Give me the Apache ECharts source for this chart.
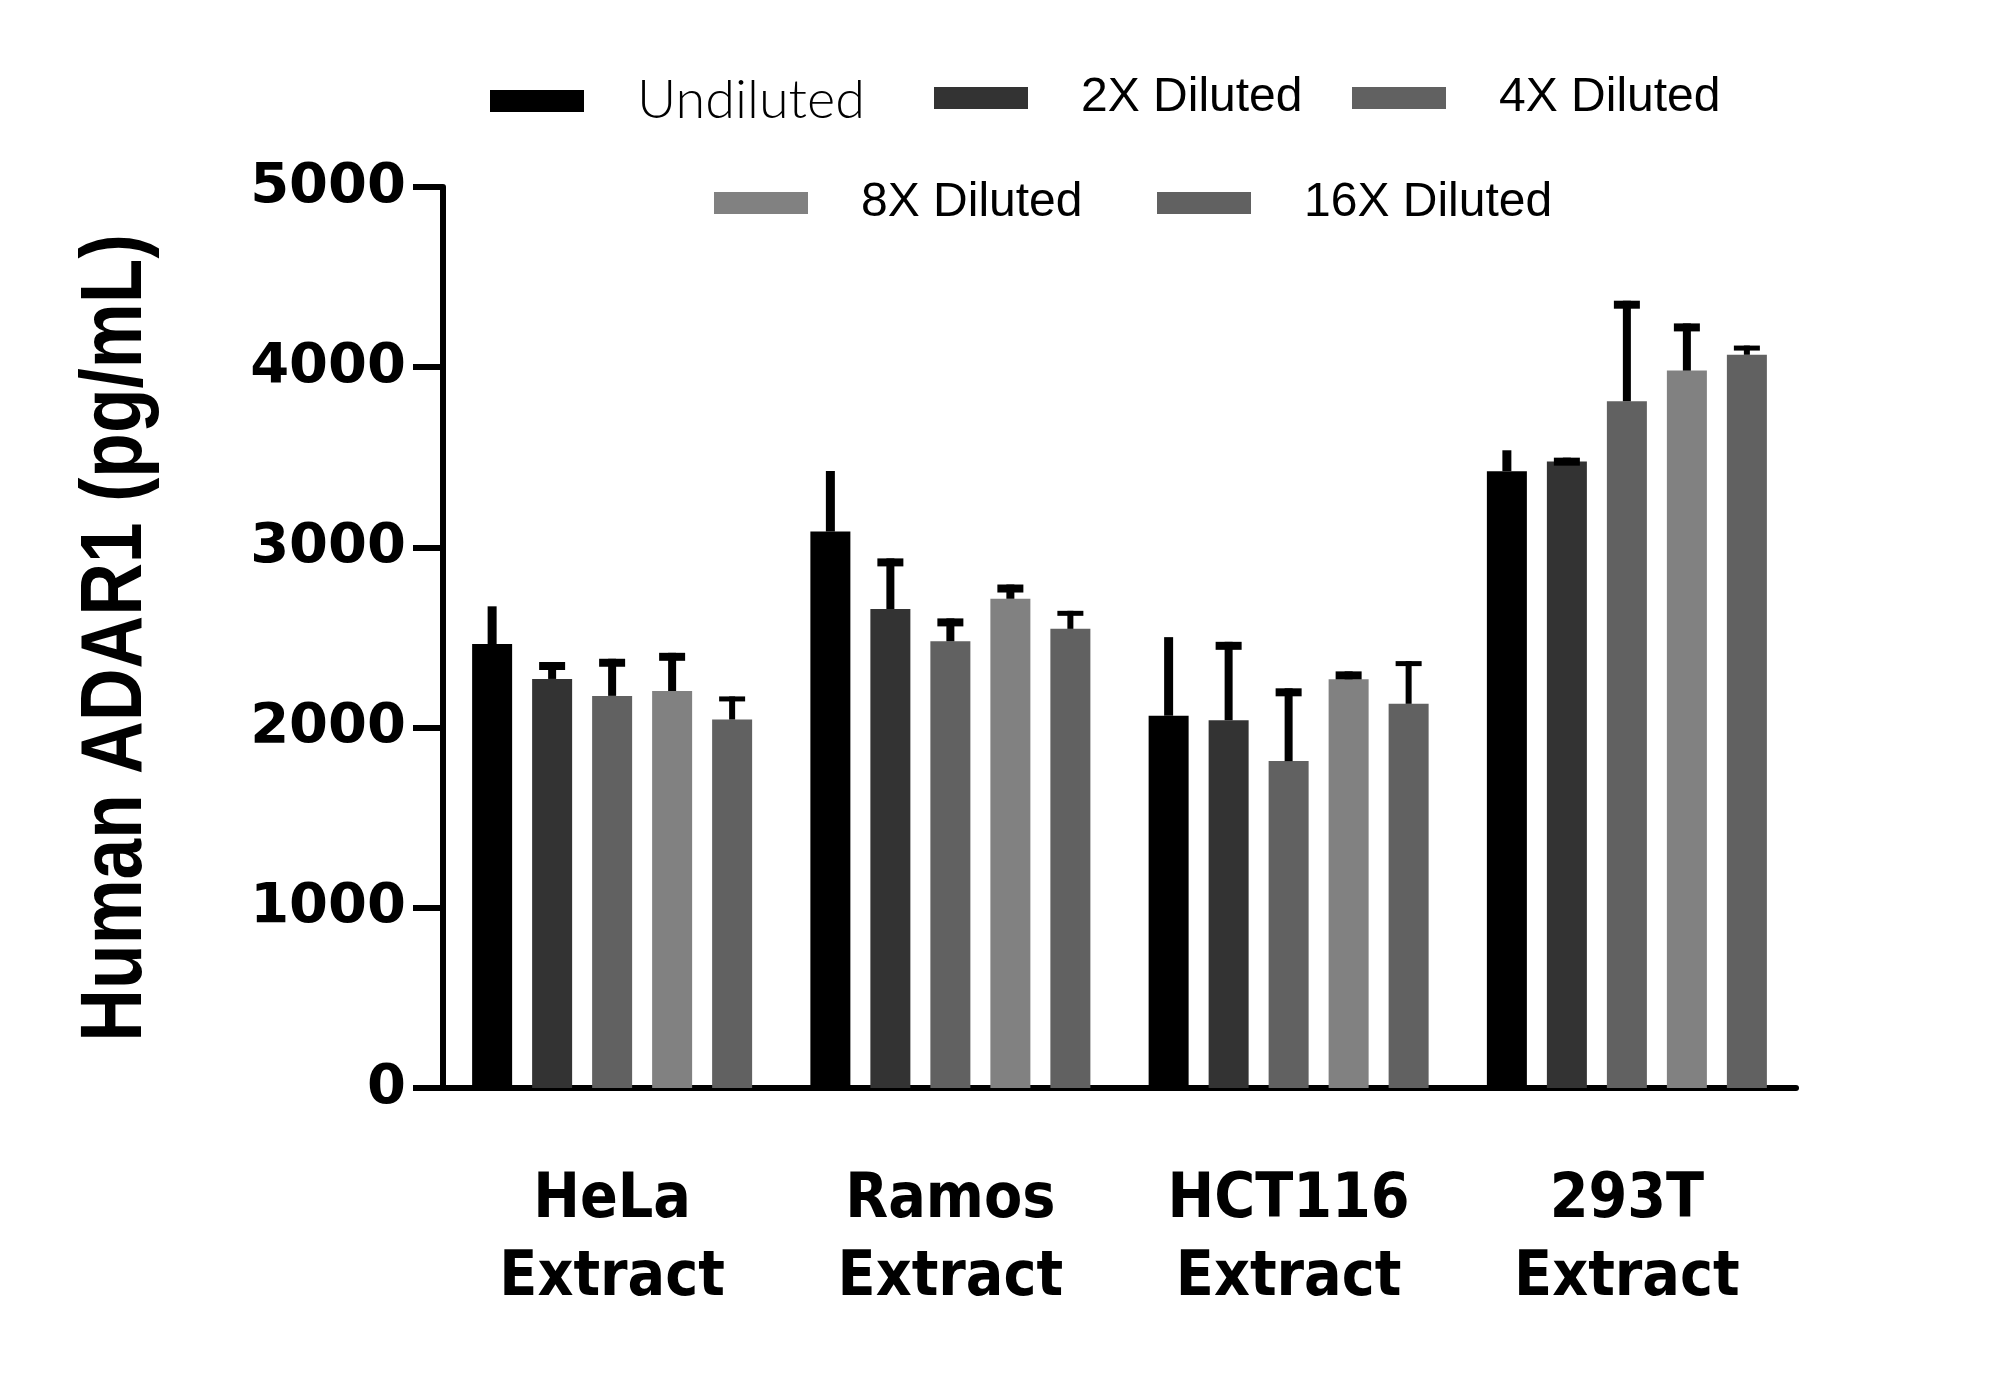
<!DOCTYPE html>
<html>
<head>
<meta charset="utf-8">
<script src="https://cdn.jsdelivr.net/npm/echarts@6/dist/echarts.min.js"></script>
<style>
  html, body { margin: 0; padding: 0; background: #fff; }
  #main { width: 2000px; height: 1382px; }
</style>
</head>
<body>
<div id="main"></div>
<script>
var categories = ['HeLa\nExtract', 'Ramos\nExtract', 'HCT116\nExtract', '293T\nExtract'];
var seriesNames = ['Undiluted', '2X Diluted', '4X Diluted', '8X Diluted', '16X Diluted'];
var colors = ['#000000', '#333333', '#616161', '#818181', '#616161'];
var yTitle = 'Human ADAR1 (pg/mL)';

// mean values per cell line
var undiluted = [2464, 3088, 2066, 3423];
var diluted2x = [2270, 2658, 2041, 3476];
var diluted4x = [2176, 2479, 1814, 3811];
var diluted8x = [2203, 2715, 2268, 3981];
var diluted16x = [2045, 2548, 2132, 4069];

// upper error (SD) per cell line
var undilutedSd = [209, 336, 436, 116];
var diluted2xSd = [94, 281, 435, 22];
var diluted4xSd = [206, 127, 404, 558];
var diluted8xSd = [212, 79, 44, 262];
var diluted16xSd = [128, 100, 237, 51];

var yTicks = [0, 1000, 2000, 3000, 4000, 5000];

var means = [undiluted, diluted2x, diluted4x, diluted8x, diluted16x];
var sds = [undilutedSd, diluted2xSd, diluted4xSd, diluted8xSd, diluted16xSd];

var barW = 40, barPitch = 60;

var errData = [];
means.forEach(function (arr, s) {
    arr.forEach(function (v, c) {
        errData.push([c, v, v + sds[s][c], s]);
    });
});

function renderErr(params, api) {
    var c = api.value(0), mean = api.value(1), hi = api.value(2), s = api.value(3);
    var base = api.coord([c, mean]);
    var top = api.coord([c, hi]);
    var x = base[0] + (s - 2) * barPitch;
    var lw = s === 0 ? 9 : (s === 4 ? 6 : 8);
    var capH = s === 4 ? 5 : 8;
    var children = [{
        type: 'rect',
        shape: { x: x - lw / 2, y: top[1], width: lw, height: base[1] - top[1] },
        style: { fill: '#000' }
    }];
    if (s > 0) {
        children.push({
            type: 'rect',
            shape: { x: x - 13, y: top[1], width: 26, height: capH },
            style: { fill: '#000' }
        });
    }
    return { type: 'group', children: children };
}

var legendPos = [
    { left: 490, top: 74 },
    { left: 934, top: 74 },
    { left: 1352, top: 74 },
    { left: 714, top: 179 },
    { left: 1157, top: 179 }
];

var legends = seriesNames.map(function (name, i) {
    return {
        data: [name],
        left: legendPos[i].left,
        top: legendPos[i].top,
        padding: 0,
        icon: 'rect',
        itemWidth: 94,
        itemHeight: 22,
        selectedMode: false,
        textStyle: {
            fontFamily: i === 0 ? 'Lato' : '"Liberation Sans", sans-serif',
            fontWeight: i === 0 ? 300 : 'normal',
            fontSize: i === 0 ? 54 : 48,
            color: '#000',
            padding: i === 0 ? [0, 0, 0, 48] : [8, 0, 0, 48]
        }
    };
});

var series = means.map(function (arr, i) {
    return {
        name: seriesNames[i],
        type: 'bar',
        data: arr,
        barWidth: barW,
        barGap: '50%',
        itemStyle: { color: colors[i] }
    };
});
series.push({
    type: 'custom',
    name: 'err',
    renderItem: renderErr,
    data: errData,
    encode: { x: 0, y: [1, 2] },
    z: 10,
    silent: true
});

var myChart = echarts.init(document.getElementById('main'));
var option = {
    animation: false,
    backgroundColor: '#fff',
    legend: legends,
    // narrow bold axis title (no condensed font installed, so squeeze it)
    graphic: [{
        type: 'text',
        x: 117,
        y: 638,
        rotation: Math.PI / 2,
        scaleX: 0.83,
        style: {
            text: yTitle,
            fontFamily: '"Liberation Sans", sans-serif',
            fontWeight: 'bold',
            fontSize: 88,
            fill: '#000',
            align: 'center',
            verticalAlign: 'middle'
        }
    }],
    grid: { left: 443, right: 204, top: 187, bottom: 294 },
    xAxis: {
        type: 'category',
        data: categories,
        axisLine: { lineStyle: { color: '#000', width: 6 } },
        axisTick: { alignWithLabel: true, length: 36, lineStyle: { color: '#000', width: 6 } },
        axisLabel: {
            margin: 74,
            fontFamily: '"DejaVu Sans Condensed", "DejaVu Sans", sans-serif',
            fontWeight: 'bold',
            fontSize: 62,
            lineHeight: 78,
            color: '#000'
        }
    },
    yAxis: {
        type: 'value',
        min: yTicks[0],
        max: yTicks[yTicks.length - 1],
        interval: 1000,
        splitLine: { show: false },
        axisLine: { show: true, lineStyle: { color: '#000', width: 6 } },
        axisTick: { show: true, length: 30, lineStyle: { color: '#000', width: 6 } },
        axisLabel: {
            margin: 37,
            fontFamily: '"DejaVu Sans", sans-serif',
            fontWeight: 'bold',
            fontSize: 56,
            color: '#000',
            formatter: function (v) { return String(v); }
        }
    },
    series: series
};
myChart.setOption(option);
</script>
</body>
</html>
